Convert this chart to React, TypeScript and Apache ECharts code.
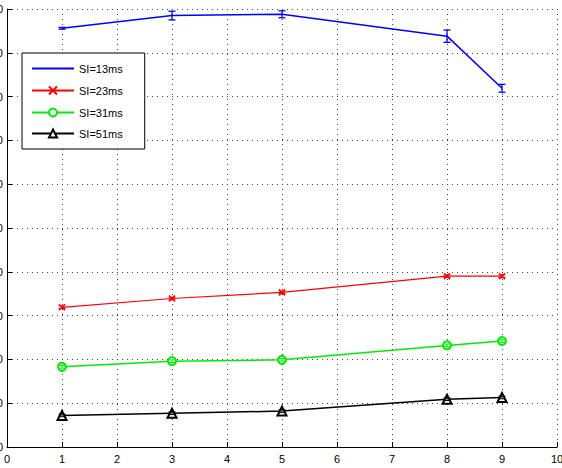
import React, { useEffect, useRef } from "react";
import * as echarts from "echarts";

const xValues = [1, 3, 5, 8, 9];
const seriesNames = ["SI=13ms", "SI=23ms", "SI=31ms", "SI=51ms"];
const si13 = [95.6, 98.5, 98.8, 93.8, 81.9];
const si13Err = [0.2, 1.0, 0.8, 1.4, 0.9];
const si23 = [31.9, 33.9, 35.3, 39.0, 39.0];
const si23Err = [0.3, 0.3, 0.3, 0.3, 0.3];
const si31 = [18.3, 19.6, 19.9, 23.2, 24.2];
const si31Err = [0.3, 0.3, 0.3, 0.3, 0.3];
const si51 = [7.2, 7.7, 8.2, 10.9, 11.3];
const si51Err = [0.3, 0.3, 0.3, 0.3, 0.3];
const colors = ["#0000ff", "#ff0000", "#00ee00", "#000000"];

const FONT = "Liberation Sans";

function pairs(ys: number[]) {
  return xValues.map((x, i) => [x, ys[i]]);
}
function errData(ys: number[], es: number[]) {
  return xValues.map((x, i) => [x, ys[i] - es[i], ys[i] + es[i]]);
}

function errorSeries(ys: number[], es: number[], color: string, lw: number) {
  return {
    type: "custom",
    name: "err-" + color,
    data: errData(ys, es),
    encode: { x: 0, y: [1, 2] },
    z: 5,
    renderItem: (params: any, api: any) => {
      const x = api.value(0);
      const lo = api.coord([x, api.value(1)]);
      const hi = api.coord([x, api.value(2)]);
      const w = 3.5;
      const style = { stroke: color, lineWidth: lw };
      return {
        type: "group",
        children: [
          { type: "line", shape: { x1: lo[0], y1: lo[1], x2: hi[0], y2: hi[1] }, style },
          { type: "line", shape: { x1: lo[0] - w, y1: lo[1], x2: lo[0] + w, y2: lo[1] }, style },
          { type: "line", shape: { x1: hi[0] - w, y1: hi[1], x2: hi[0] + w, y2: hi[1] }, style },
        ],
      };
    },
  };
}

export default function App() {
  const ref = useRef<HTMLDivElement>(null);
  useEffect(() => {
    if (!ref.current) return;
    const chart = echarts.init(ref.current, null, { renderer: "svg" });
    const gridLine = { show: true, lineStyle: { color: "#444", type: [1, 4], width: 1 } };
    chart.setOption({
      animation: false,
      backgroundColor: "#ffffff",
      textStyle: { fontFamily: FONT },
      grid: { left: 7, right: 5, top: 9, bottom: 21, containLabel: false, outerBoundsMode: "none" },
      legend: {
        data: [
          { name: seriesNames[0], itemStyle: { opacity: 0 } },
          { name: seriesNames[1] },
          { name: seriesNames[2] },
          { name: seriesNames[3] },
        ],
        orient: "vertical",
        left: 22,
        top: 53,
        padding: [10, 22, 10, 9],
        itemWidth: 42,
        itemHeight: 10,
        itemGap: 10,
        backgroundColor: "#ffffff",
        borderColor: "#000000",
        borderWidth: 1,
        borderRadius: 0,
        textStyle: { fontFamily: FONT, fontSize: 11, color: "#000" },
      },
      xAxis: {
        type: "value",
        min: 0,
        max: 10,
        interval: 1,
        axisLine: { show: true, onZero: false, lineStyle: { color: "#000", width: 1 } },
        axisTick: { show: true, inside: true, length: 5, lineStyle: { color: "#000" } },
        axisLabel: { color: "#000", fontFamily: FONT, fontSize: 11, margin: 6 },
        splitLine: gridLine,
      },
      yAxis: {
        type: "value",
        min: 0,
        max: 100,
        interval: 10,
        axisLine: { show: true, onZero: false, lineStyle: { color: "#000", width: 1 } },
        axisTick: { show: true, inside: true, length: 5, lineStyle: { color: "#000" } },
        axisLabel: { color: "#000", fontFamily: FONT, fontSize: 11, margin: 4 },
        splitLine: gridLine,
      },
      series: [
        {
          type: "line",
          name: seriesNames[0],
          data: pairs(si13),
          symbol: "none",
          lineStyle: { color: colors[0], width: 1.5 },
          itemStyle: { color: colors[0] },
          z: 4,
        },
        {
          type: "line",
          name: seriesNames[1],
          data: pairs(si23),
          symbol: "path://M0,0L10,10M10,0L0,10",
          symbolSize: 6,
          lineStyle: { color: colors[1], width: 1.2 },
          itemStyle: { color: "none", borderColor: colors[1], borderWidth: 1.5 },
          z: 4,
        },
        {
          type: "line",
          name: seriesNames[2],
          data: pairs(si31),
          symbol: "emptyCircle",
          symbolSize: 8,
          lineStyle: { color: colors[2], width: 1.5 },
          itemStyle: { color: colors[2], borderColor: colors[2], borderWidth: 1.5 },
          z: 4,
        },
        {
          type: "line",
          name: seriesNames[3],
          data: pairs(si51),
          symbol: "emptyTriangle",
          symbolSize: 9,
          lineStyle: { color: colors[3], width: 1.5 },
          itemStyle: { color: colors[3], borderColor: colors[3], borderWidth: 1.5 },
          z: 4,
        },
        errorSeries(si13, si13Err, colors[0], 1.3),
        errorSeries(si23, si23Err, colors[1], 1),
        errorSeries(si31, si31Err, colors[2], 1),
        errorSeries(si51, si51Err, colors[3], 1),
      ],
    });
    return () => chart.dispose();
  }, []);
  return <div ref={ref} style={{ width: 562, height: 468, position: "absolute", left: 0, top: 0 }} />;
}
